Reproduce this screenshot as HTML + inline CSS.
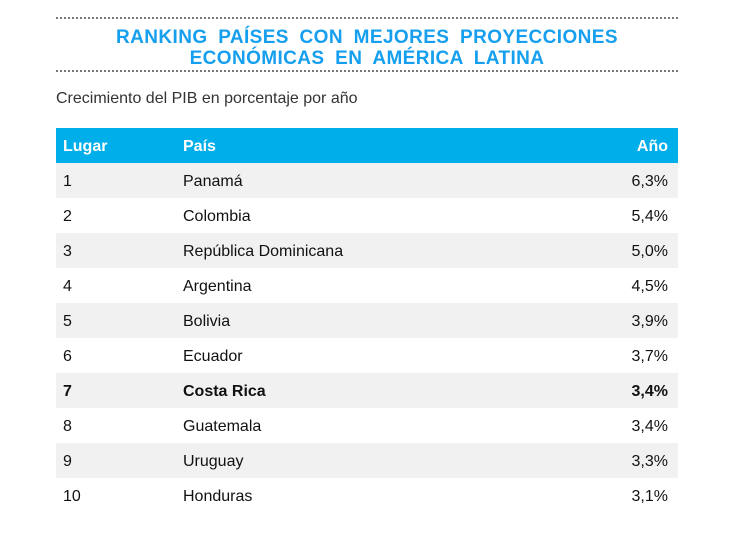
<!DOCTYPE html>
<html><head><meta charset="utf-8"><style>
body{margin:0;width:730px;height:542px;background:#fff;font-family:"Liberation Sans",sans-serif;position:relative;overflow:hidden}
.dot{position:absolute;left:56px;width:622px;border-top:2px dotted #777}
.title{position:absolute;left:56px;width:622px;top:27px;text-align:center;color:#159fee;font-weight:bold;font-size:19px;line-height:21px;word-spacing:5px;letter-spacing:0.4px}
.sub{position:absolute;left:56px;top:90px;font-size:16px;color:#333}
table{position:absolute;left:56px;top:128px;width:622px;border-collapse:collapse;font-size:16px;color:#111}
th{background:#00aeea;color:#fff;height:35px;text-align:left;font-size:16px;padding:3px 7px 0;box-sizing:border-box}
td{height:35px;padding:3px 7px 0;box-sizing:border-box}
tr:nth-child(odd) td{background:#f1f1f1}
.r{text-align:right;padding-right:10px}
tr.b td{font-weight:bold}
</style></head><body>
<div class="dot" style="top:17px"></div>
<div class="title">RANKING PAÍSES CON MEJORES PROYECCIONES<br>ECONÓMICAS EN AMÉRICA LATINA</div>
<div class="dot" style="top:70px"></div>
<div class="sub">Crecimiento del PIB en porcentaje por año</div>
<table>
<thead><tr><th style="width:120px">Lugar</th><th>País</th><th class="r">Año</th></tr></thead>
<tbody id="tb"></tbody></table>
<script>
const countries=["Panamá","Colombia","República Dominicana","Argentina","Bolivia","Ecuador","Costa Rica","Guatemala","Uruguay","Honduras"];
const values=["6,3%","5,4%","5,0%","4,5%","3,9%","3,7%","3,4%","3,4%","3,3%","3,1%"];
const tb=document.getElementById('tb');
countries.forEach((c,i)=>{
const tr=document.createElement('tr');


if(c==="Costa Rica")tr.className='b';
tr.innerHTML='<td>'+(i+1)+'</td><td>'+c+'</td><td class="r">'+values[i]+'</td>';
tb.appendChild(tr);
});
</script>
</body></html>
